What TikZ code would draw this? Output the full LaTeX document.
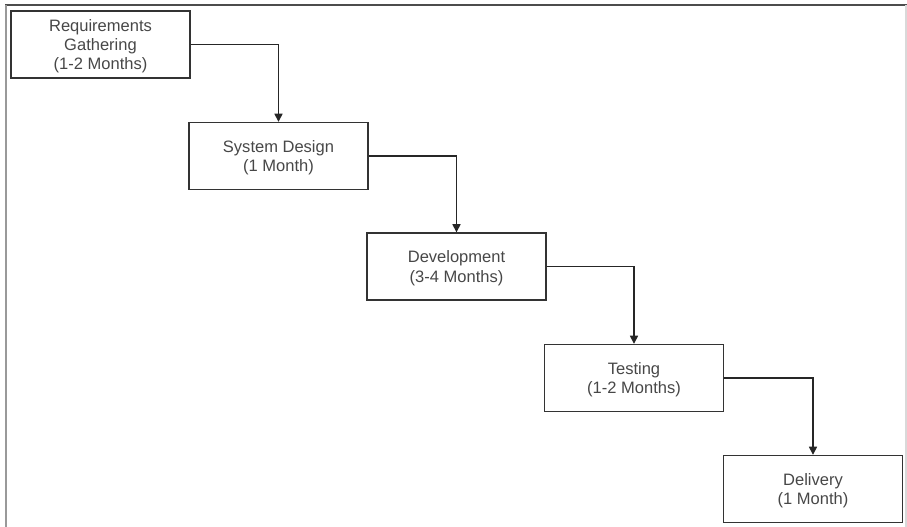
\documentclass[tikz,border=0pt]{standalone}
\usepackage{fontspec}
\setmainfont{Liberation Sans}
\usepackage{tikz}
\usetikzlibrary{arrows.meta, positioning}

\begin{document}
\begin{tikzpicture}[
  x=0.02cm, y=-0.02cm,
  phase/.style={draw=black!80, line width=0.8pt, minimum width=3.58cm, minimum height=1.34cm, align=center, font=\fontsize{9.4}{11}\selectfont, text=black!72, inner ysep=0pt, text depth=0pt},
  flow/.style={draw=black!85, line width=0.8pt, -{Triangle[width=4.6pt, length=4.6pt]}}
]
  % Frame
  \useasboundingbox (0, 0) rectangle (907, 527);
  \draw[black!70, line width=1pt] (5, 5) -- (907, 5);
  \draw[black!40, line width=1.2pt] (6, 5) -- (6, 527);
  \draw[black!15, line width=1pt] (906, 5) -- (906, 527);

  % Phases
  \node[phase] (req) at (100.5, 44.5) {Requirements\\Gathering\\(1-2 Months)};
  \node[phase] (design) at (278.5, 156) {System Design\\(1 Month)};
  \node[phase] (dev) at (456.5, 266.5) {Development\\(3-4 Months)};
  \node[phase] (test) at (634, 378) {Testing\\(1-2 Months)};
  \node[phase] (deliv) at (813, 489) {Delivery\\(1 Month)};

  % Arrows
  \draw[flow] (req.east) -| (design.north);
  \draw[flow] (design.east) -| (dev.north);
  \draw[flow] (dev.east) -| (test.north);
  \draw[flow] (test.east) -| (deliv.north);

\end{tikzpicture}
\end{document}
